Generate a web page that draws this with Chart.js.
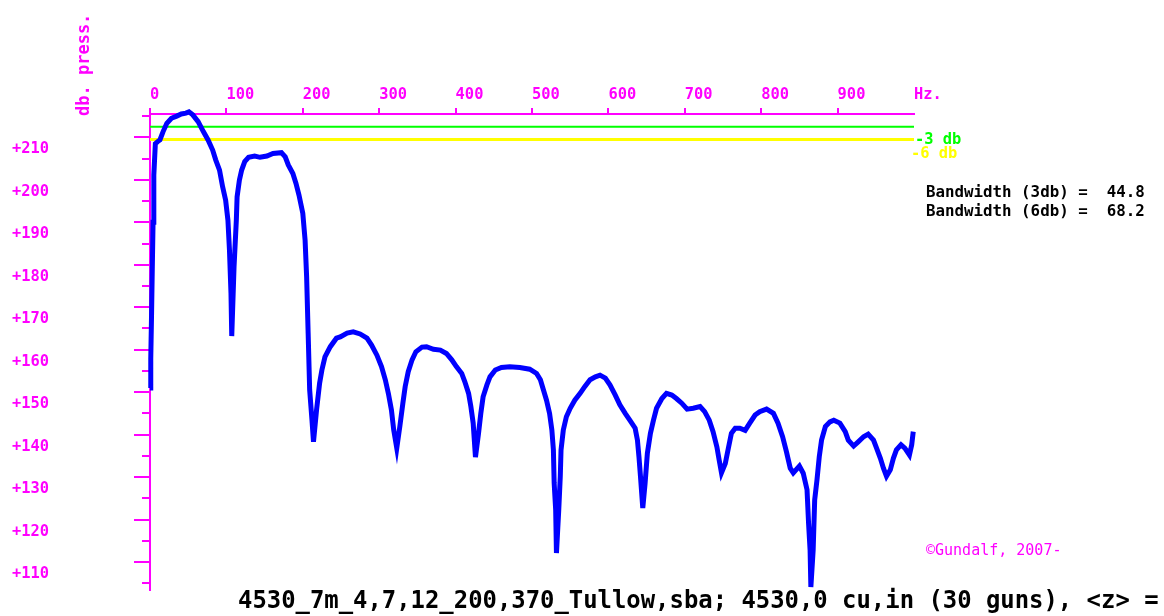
<!DOCTYPE html>
<html>
<head>
<meta charset="utf-8">
<script src="https://cdn.jsdelivr.net/npm/chart.js@4.4.1/dist/chart.umd.min.js"></script>
<style>
html,body{margin:0;padding:0;background:#fff;}
#wrap{position:relative;width:1164px;height:616px;overflow:hidden;background:#fff;}
#c{position:absolute;left:0;top:0;}
.t{position:absolute;white-space:pre;font-family:"DejaVu Sans Mono",monospace;}
#ytitle{left:0;top:0;transform-origin:0 0;transform:translate(75px,116px) rotate(-90deg);color:#ff00ff;font-size:17px;line-height:17px;font-weight:bold;}
#m3{left:915px;top:131px;color:#00ff00;font-size:15.4px;line-height:16px;font-weight:bold;}
#m6{left:911px;top:145px;color:#ffff00;font-size:15.4px;line-height:16px;font-weight:bold;}
#bw{left:926px;top:182px;color:#000;font-size:15.8px;line-height:19px;font-weight:bold;}
#copy{left:926px;top:542px;color:#ff00ff;font-size:15px;line-height:16px;}
#caption{left:238px;top:588px;color:#000;font-size:23.9px;line-height:24px;font-weight:bold;}
</style>
</head>
<body>
<div id="wrap">
<canvas id="c" width="1164" height="616"></canvas>
<div class="t" id="ytitle">db. press.</div>
<div class="t" id="m3">-3 db</div>
<div class="t" id="m6">-6 db</div>
<div class="t" id="bw">Bandwidth (3db) =  44.8
Bandwidth (6db) =  68.2</div>
<div class="t" id="copy">©Gundalf, 2007-</div>
<div class="t" id="caption">4530_7m_4,7,12_200,370_Tullow,sba; 4530,0 cu,in (30 guns), &lt;z&gt; =</div>
</div>
<script>
// ---- data ----
const freqHz = [0,1,2,3,4,5,7,10,13,17,22,28,35,41,47,51,56,63,70,76,82,86,91,95,99,102,104,106,107,110,113,114,117,120,124,129,137,144,153,161,172,177,181,187,191,195,200,203,205,207,209,212,214,218,222,225,229,236,244,249,258,266,275,284,290,297,303,308,312,316,319,323,327,331,334,338,343,348,356,362,371,380,388,395,401,408,412,417,420,423,426,430,433,436,441,445,452,460,471,484,497,506,511,515,519,523,526,528,529,531,532,535,537,538,541,545,550,556,563,569,576,583,589,596,602,609,615,622,628,635,638,640,642,645,648,651,655,659,663,670,676,683,689,696,703,711,720,726,732,737,742,745,748,753,757,761,766,772,779,785,792,798,807,816,822,828,833,838,842,850,855,860,862,864,865,868,870,873,876,879,884,890,895,903,910,914,921,927,934,940,947,951,956,960,964,969,973,977,983,988,994,997,999];
const pressureDb = [151.0,158.0,168.0,179.2,190.0,201.1,208.5,209.0,209.4,211.3,213.3,214.5,215.0,215.5,215.7,216.0,215.3,213.7,211.3,209.4,207.0,204.7,202.3,198.4,195.2,190.5,183.5,173.3,163.2,179.5,190.5,196.0,199.9,202.3,204.3,205.3,205.6,205.3,205.6,206.2,206.4,205.4,203.5,201.5,199.2,196.4,192.1,185.8,177.2,163.9,150.5,143.4,138.3,145.8,152.1,155.2,158.3,160.7,162.7,163.0,163.9,164.2,163.7,162.7,161.1,158.7,156.0,152.9,149.7,145.8,141.1,136.8,141.9,147.4,151.3,154.8,157.6,159.5,160.6,160.7,160.1,159.9,159.1,157.6,156.0,154.4,152.5,149.7,146.6,142.7,134.7,140.3,145.0,148.9,151.7,153.6,155.2,155.8,156.0,155.8,155.4,154.4,152.9,150.5,148.1,145.0,141.1,136.4,128.6,122.2,112.1,122.2,130.1,136.4,141.1,144.2,146.2,148.1,149.7,151.3,152.9,153.6,154.0,153.3,151.7,149.3,147.0,145.0,143.4,141.5,138.7,134.8,130.1,122.7,128.5,135.6,140.3,143.4,146.2,148.5,149.7,149.3,148.5,147.4,146.0,146.2,146.6,145.4,143.4,140.7,137.1,134.0,131.0,133.2,136.8,140.3,141.5,141.5,141.0,142.7,144.6,145.4,146.0,145.0,142.7,139.5,136.0,132.1,131.0,132.6,130.9,127.0,119.1,112.8,104.1,112.8,124.6,129.3,134.8,138.7,141.9,143.0,143.4,142.7,140.7,138.7,137.3,138.3,139.5,140.1,138.7,136.8,134.4,132.1,130.2,131.7,134.4,136.4,137.6,136.8,135.2,137.6,140.7];
const minus3dbLevel = 212.5;
const minus6dbLevel = 209.5;
const freqRange = [0, 1000];
const dbRange = [103.4, 215.5];
const freqTickStep = 100;
const dbLabelStep = 10;
const dbMinorStep = 5;
const freqEndLabel = 'Hz.';

// ---- chart ----
const MAG = '#ff00ff';
const tickFont = {family: 'DejaVu Sans Mono', size: 15.4, weight: 'bold'};

const spectrum = freqHz.map((f, i) => ({x: f, y: pressureDb[i]}));
const hLine = v => freqRange.map(f => ({x: f, y: v}));

new Chart(document.getElementById('c'), {
  type: 'line',
  data: {
    datasets: [
      {data: spectrum, borderColor: '#0000ff', borderWidth: 5, pointRadius: 0, tension: 0, clip: false, borderJoinStyle: 'miter'},
      {data: hLine(minus3dbLevel), borderColor: '#00ff00', borderWidth: 2, pointRadius: 0, clip: false},
      {data: hLine(minus6dbLevel), borderColor: '#ffff00', borderWidth: 3, pointRadius: 0, clip: false}
    ]
  },
  options: {
    responsive: false,
    animation: false,
    devicePixelRatio: 1,
    layout: {padding: {left: 12, right: 250, top: 0, bottom: 26}},
    plugins: {legend: {display: false}, tooltip: {enabled: false}},
    scales: {
      x: {
        type: 'linear', position: 'top', min: freqRange[0], max: freqRange[1],
        afterFit: s => { s.height = 114; },
        ticks: {
          stepSize: freqTickStep, autoSkip: false, maxRotation: 0, minRotation: 0,
          align: 'start', color: MAG, font: tickFont, padding: 4,
          callback: v => (v === freqRange[1] ? freqEndLabel : String(v))
        },
        grid: {
          drawOnChartArea: false, tickLength: 6, lineWidth: 2, color: MAG,
          tickColor: ctx => (ctx.tick && ctx.tick.value === freqRange[1] ? 'rgba(0,0,0,0)' : MAG)
        },
        border: {display: true, color: MAG, width: 2}
      },
      y: {
        type: 'linear', position: 'left', min: dbRange[0], max: dbRange[1],
        afterFit: s => { s.width = 138; },
        ticks: {
          stepSize: dbLabelStep, includeBounds: false, crossAlign: 'far',
          labelOffset: 12, color: MAG, font: tickFont,
          callback: v => '+' + v
        },
        grid: {drawOnChartArea: false, tickLength: 16, lineWidth: 2, color: MAG},
        border: {display: true, color: MAG, width: 2}
      },
      yMinor: {
        type: 'linear', axis: 'y', position: {x: 0}, min: dbRange[0], max: dbRange[1],
        ticks: {stepSize: dbMinorStep, includeBounds: false, display: false},
        grid: {drawOnChartArea: false, tickLength: 8, lineWidth: 2, color: MAG},
        border: {display: false}
      }
    }
  }
});
</script>
</body>
</html>
